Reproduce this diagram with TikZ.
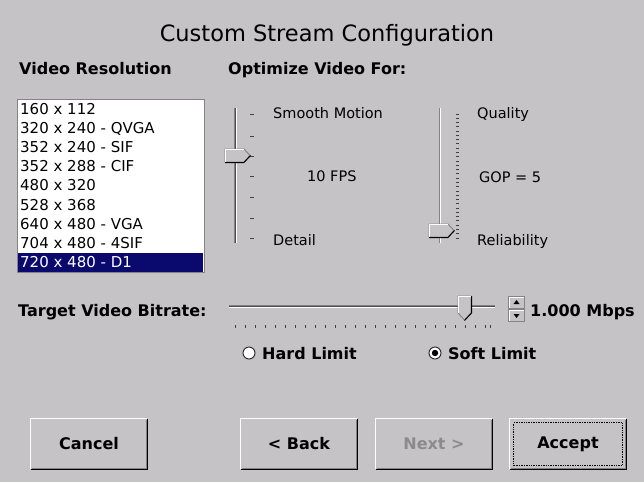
\documentclass[tikz,border=0pt]{standalone}
\usepackage{fontspec}
\setmainfont{DejaVu Sans}
\definecolor{bg}{RGB}{198,195,198}
\definecolor{sel}{RGB}{10,10,110}
\definecolor{dkgray}{RGB}{132,130,132}
\definecolor{disabled}{RGB}{140,138,140}
\begin{document}
\begin{tikzpicture}[x=1pt,y=-1pt,
  reg/.style={font=\fontsize{14.5}{17}\selectfont, inner sep=0, anchor=base west},
  bld/.style={font=\bfseries\fontsize{16}{19}\selectfont, inner sep=0, anchor=base west},
  item/.style={font=\fontsize{15}{17}\selectfont, inner sep=0, anchor=base west},
  btn/.style={minimum width=116pt, minimum height=50pt, inner sep=0, fill=bg,
              font=\bfseries\fontsize{16}{19}\selectfont},
  tick/.style={black!75, line width=0.9pt},
  thumbshape/.style={fill=bg, draw=dkgray, line width=0.9pt}]
\fill[bg] (0,0) rectangle (644,482);
\useasboundingbox (0,0) rectangle (644,482);

% title and headers
\node[font=\fontsize{22.5}{26}\selectfont, inner sep=0, anchor=base] (title) at (327,41) {Custom Stream Configuration};
\node[bld] (vres) at (19,74) {Video Resolution};
\node[bld] (opt) at (228,74) {Optimize Video For:};

% list box
\node[draw=dkgray, fill=white, line width=1pt, minimum width=187pt, minimum height=173pt, inner sep=0, anchor=north west] (list) at (17,99) {};
\fill[sel] (18,253) rectangle (203,271.5);
\foreach \t [count=\i from 0] in {160 x 112, 320 x 240 - QVGA, 352 x 240 - SIF, 352 x 288 - CIF, 480 x 320, 528 x 368, 640 x 480 - VGA, 704 x 480 - 4SIF}{
  \node[item] (it\i) at (20,{114+\i*19.2}) {\t};
}
\node[item, text=white] (it8) at (20,{114+8*19.2}) {720 x 480 - D1};

% slider 1 (vertical)
\coordinate (s1top) at (235,108);
\coordinate (s1bot) at (235,243);
\draw[dkgray, line width=1.2pt] ([xshift=-0.8pt]s1top) -- ([xshift=-0.8pt]s1bot);
\draw[black!70, line width=0.6pt] (s1top) -- (s1bot);
\draw[white, line width=0.8pt] ([xshift=1pt]s1top) -- ([xshift=1pt]s1bot);
\foreach \yy in {114,136,156,176,197,218,238}{
  \draw[tick] (250,\yy) -- (253.5,\yy);
}
\draw[thumbshape] (225,149) -- (244,149) -- (250,155.5) -- (244,162) -- (225,162) -- cycle;
\draw[white, line width=0.9pt] (225.5,161.5) -- (225.5,149.5) -- (243.5,149.5);
\draw[black, line width=1pt] (225,162.5) -- (244,162.5) -- (250.5,155.5);
\node[reg] (smooth) at (273,118.5) {Smooth Motion};
\node[reg] (fps) at (307,181.5) {10 FPS};
\node[reg] (detail) at (273,245.5) {Detail};

% slider 2 (vertical)
\coordinate (s2top) at (440,108);
\coordinate (s2bot) at (440,243);
\draw[dkgray, line width=1pt] ([xshift=-1pt]s2top) -- ([xshift=-1pt]s2bot);
\draw[white, line width=1pt] ([xshift=0.8pt]s2top) -- ([xshift=0.8pt]s2bot);
\foreach \k in {0,...,29}{
  \draw[tick] (456,{114+\k*124/29}) -- (459,{114+\k*124/29});
}
\draw[thumbshape] (429,224) -- (448,224) -- (454,230.5) -- (448,237) -- (429,237) -- cycle;
\draw[white, line width=0.9pt] (429.5,236.5) -- (429.5,224.5) -- (447.5,224.5);
\draw[black, line width=1pt] (429,237.5) -- (448,237.5) -- (454.5,230.5);
\node[reg] (quality) at (477,118.5) {Quality};
\node[reg] (gop) at (479,182.5) {GOP = 5};
\node[reg] (reliab) at (477,245.5) {Reliability};

% bitrate slider
\node[bld] (target) at (18,316) {Target Video Bitrate:};
\coordinate (btl) at (229,306);
\coordinate (btr) at (495,306);
\draw[dkgray, line width=1.2pt] ([yshift=0.8pt]btl) -- ([yshift=0.8pt]btr);
\draw[black!70, line width=0.6pt] (btl) -- (btr);
\draw[white, line width=1pt] ([yshift=-1pt]btl) -- ([yshift=-1pt]btr);
\foreach \k in {0,...,25}{
  \draw[tick] ({235+\k*10},325) -- ({235+\k*10},328);
}
\draw[tick] (490,325) -- (490,328);
\draw[thumbshape] (458,296) -- (471,296) -- (471,313) -- (464.5,320) -- (458,313) -- cycle;
\draw[white, line width=0.9pt] (458.5,313) -- (458.5,296.5) -- (470.5,296.5);
\draw[black, line width=1pt] (471.5,296) -- (471.5,313) -- (464.5,320.5);

% spin button
\node[draw=dkgray, fill=bg, line width=1pt, minimum width=16pt, minimum height=12pt, inner sep=0, anchor=north west] (spinup) at (508,296) {};
\node[draw=dkgray, fill=bg, line width=1pt, minimum width=16pt, minimum height=12pt, inner sep=0, anchor=north west] (spindn) at (508,309) {};
\draw[white, line width=0.8pt] ([shift={(1pt,1pt)}]spinup.south west) -- ([shift={(1pt,-1pt)}]spinup.north west) -- ([shift={(-1pt,-1pt)}]spinup.north east);
\draw[white, line width=0.8pt] ([shift={(1pt,1pt)}]spindn.south west) -- ([shift={(1pt,-1pt)}]spindn.north west) -- ([shift={(-1pt,-1pt)}]spindn.north east);
\fill[black] ([yshift=2.5pt]spinup.center) -- ([shift={(-3pt,-1.5pt)}]spinup.center) -- ([shift={(3pt,-1.5pt)}]spinup.center) -- cycle;
\fill[black] ([yshift=-2.5pt]spindn.center) -- ([shift={(-3pt,1.5pt)}]spindn.center) -- ([shift={(3pt,1.5pt)}]spindn.center) -- cycle;
\node[bld] (mbps) at (530,316) {1.000 Mbps};

% radio buttons
\node[circle, draw=black!80, fill=white, line width=1pt, minimum size=12pt, inner sep=0] (hard) at (249,353) {};
\node[bld] (hardt) at (262,359) {Hard Limit};
\node[circle, draw=black!80, fill=white, line width=1pt, minimum size=12pt, inner sep=0] (soft) at (435,353) {};
\fill[black] (soft.center) circle (3.2pt);
\node[bld] (softt) at (448,359) {Soft Limit};

% buttons
\node[btn] (cancel) at (89,444) {Cancel};
\node[btn] (back) at (299,444) {< Back};
\node[btn, text=disabled] (next) at (434,444) {Next >};
\node[btn] (accept) at (568,444) {Accept};
\foreach \bn in {cancel,back,next,accept}{
  \draw[white, line width=1pt] (\bn.south west) -- (\bn.north west) -- (\bn.north east);
  \draw[dkgray, line width=1pt] ([shift={(1pt,1pt)}]\bn.south west) -- ([shift={(-1pt,1pt)}]\bn.south east) -- ([shift={(-1pt,-1pt)}]\bn.north east);
  \draw[black, line width=1pt] (\bn.south west) -- (\bn.south east) -- (\bn.north east);
}
\draw[black, densely dotted, line width=0.7pt] ([shift={(4pt,4pt)}]accept.south west) rectangle ([shift={(-4pt,-4pt)}]accept.north east);
\end{tikzpicture}
\end{document}
